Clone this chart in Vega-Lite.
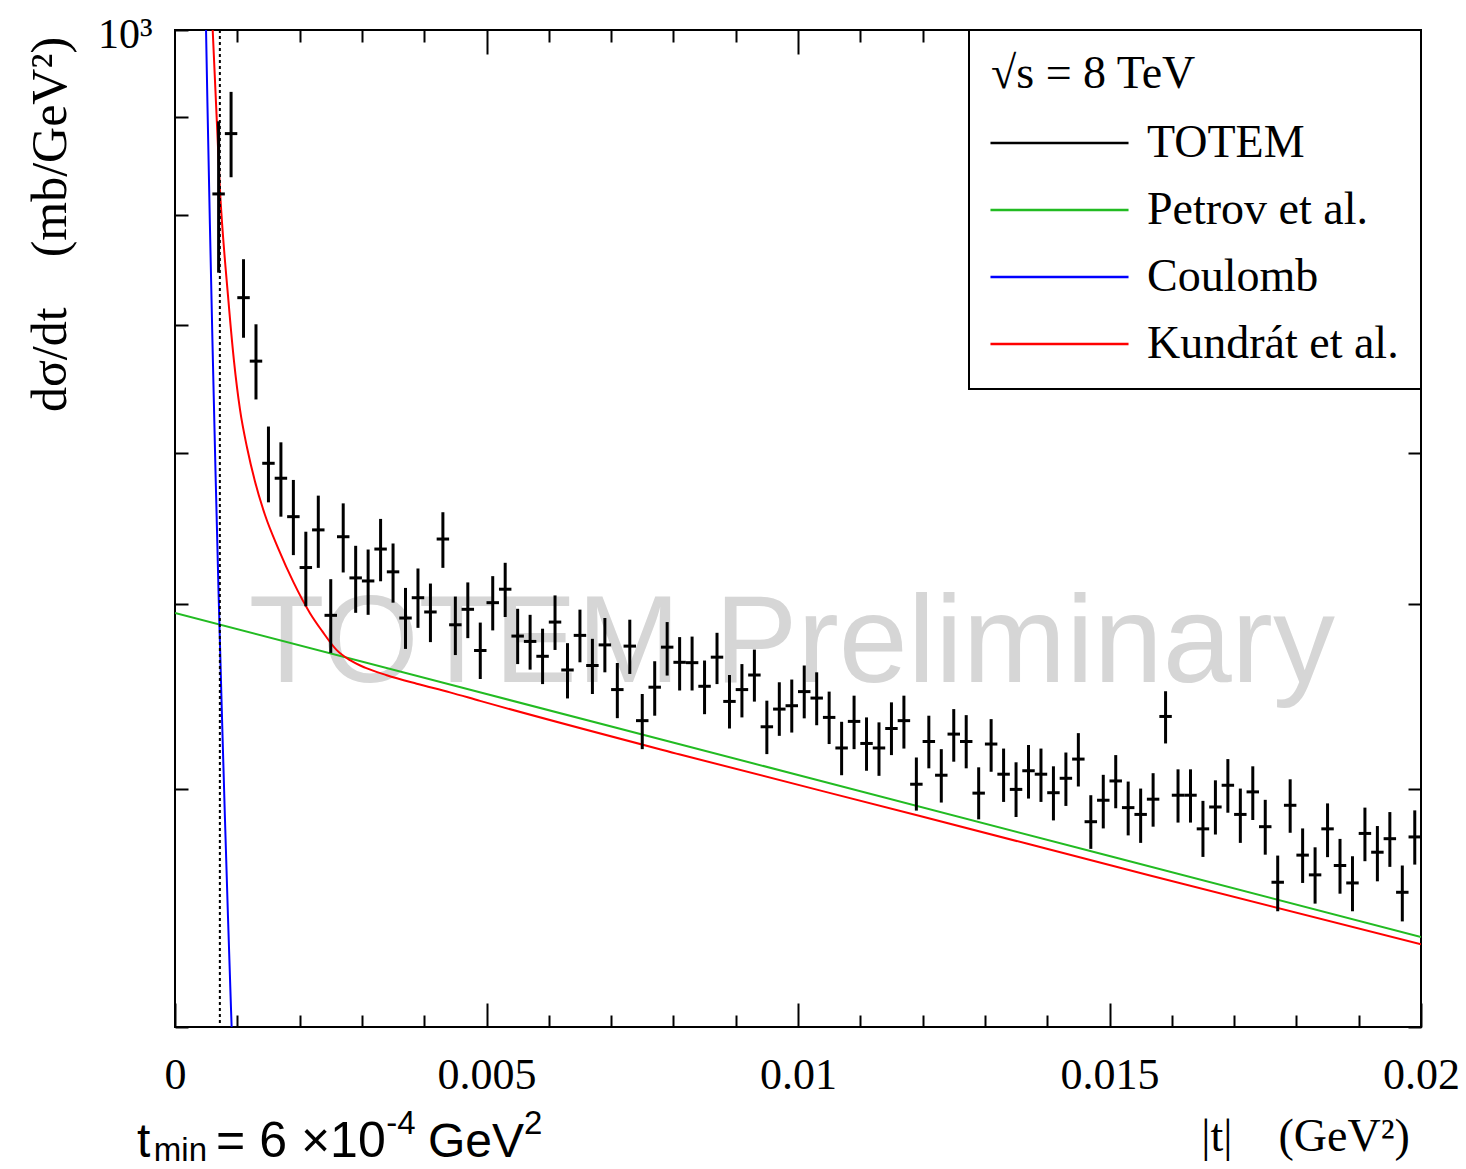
{
  "$schema": "https://vega.github.io/schema/vega-lite/v6.json",
  "width": 1246,
  "height": 997,
  "autosize": {"type": "none"},
  "padding": {"left": 175, "top": 30, "right": 45, "bottom": 142},
  "background": "white",
  "config": {
    "view": {"stroke": "black", "strokeWidth": 2},
    "axis": {"domain": false, "grid": false, "tickColor": "black", "tickWidth": 2, "labelColor": "black", "titleColor": "black", "labelFont": "Liberation Serif", "titleFont": "Liberation Serif", "titleFontWeight": "normal", "labelOverlap": false, "labelFlush": false},
    "legend": {"strokeWidth": 2}
  },
  "datasets": {
    "totem": [
      {"t":0.0007,"t0":0.0006,"t1":0.0008,"v":820.4,"lo":746.0,"hi":895.6},
      {"t":0.0009,"t0":0.0008,"t1":0.0010,"v":882.4,"lo":837.1,"hi":928.0},
      {"t":0.0011,"t0":0.0010,"t1":0.0012,"v":723.8,"lo":689.6,"hi":758.2},
      {"t":0.0013,"t0":0.0012,"t1":0.0014,"v":670.4,"lo":640.1,"hi":700.9},
      {"t":0.0015,"t0":0.0014,"t1":0.0016,"v":592.6,"lo":565.3,"hi":619.5},
      {"t":0.0017,"t0":0.0016,"t1":0.0018,"v":582.0,"lo":555.6,"hi":607.8},
      {"t":0.0019,"t0":0.0018,"t1":0.0020,"v":555.6,"lo":530.4,"hi":580.8},
      {"t":0.0021,"t0":0.0020,"t1":0.0022,"v":522.5,"lo":498.6,"hi":545.6},
      {"t":0.0023,"t0":0.0022,"t1":0.0024,"v":546.8,"lo":522.3,"hi":569.9},
      {"t":0.0025,"t0":0.0024,"t1":0.0026,"v":493.2,"lo":471.3,"hi":515.2},
      {"t":0.0027,"t0":0.0026,"t1":0.0028,"v":542.3,"lo":519.4,"hi":564.6},
      {"t":0.0029,"t0":0.0028,"t1":0.0030,"v":516.0,"lo":494.7,"hi":536.4},
      {"t":0.0031,"t0":0.0030,"t1":0.0032,"v":514.1,"lo":493.5,"hi":534.0},
      {"t":0.0033,"t0":0.0032,"t1":0.0034,"v":534.3,"lo":513.9,"hi":554.1},
      {"t":0.0035,"t0":0.0034,"t1":0.0036,"v":519.8,"lo":500.8,"hi":537.9},
      {"t":0.0037,"t0":0.0036,"t1":0.0038,"v":491.6,"lo":473.6,"hi":509.8},
      {"t":0.0039,"t0":0.0038,"t1":0.0040,"v":503.8,"lo":485.8,"hi":521.9},
      {"t":0.0041,"t0":0.0040,"t1":0.0042,"v":495.2,"lo":477.5,"hi":512.5},
      {"t":0.0043,"t0":0.0042,"t1":0.0044,"v":540.8,"lo":522.3,"hi":558.6},
      {"t":0.0045,"t0":0.0044,"t1":0.0046,"v":487.6,"lo":470.1,"hi":504.5},
      {"t":0.0047,"t0":0.0046,"t1":0.0048,"v":496.8,"lo":479.8,"hi":513.2},
      {"t":0.0049,"t0":0.0048,"t1":0.0050,"v":472.7,"lo":456.7,"hi":488.9},
      {"t":0.0051,"t0":0.0050,"t1":0.0052,"v":500.8,"lo":484.3,"hi":517.1},
      {"t":0.0053,"t0":0.0052,"t1":0.0054,"v":509.0,"lo":492.2,"hi":525.5},
      {"t":0.0055,"t0":0.0054,"t1":0.0056,"v":481.0,"lo":465.0,"hi":497.1},
      {"t":0.0057,"t0":0.0056,"t1":0.0058,"v":477.9,"lo":461.9,"hi":493.5},
      {"t":0.0059,"t0":0.0058,"t1":0.0060,"v":469.4,"lo":453.9,"hi":485.3},
      {"t":0.0061,"t0":0.0060,"t1":0.0062,"v":489.2,"lo":473.0,"hi":505.2},
      {"t":0.0063,"t0":0.0062,"t1":0.0064,"v":461.7,"lo":446.1,"hi":476.9},
      {"t":0.0065,"t0":0.0064,"t1":0.0066,"v":481.4,"lo":466.0,"hi":496.6},
      {"t":0.0067,"t0":0.0066,"t1":0.0068,"v":464.2,"lo":448.5,"hi":479.4},
      {"t":0.0069,"t0":0.0068,"t1":0.0070,"v":475.9,"lo":460.4,"hi":491.6},
      {"t":0.0071,"t0":0.0070,"t1":0.0072,"v":450.9,"lo":435.6,"hi":465.6},
      {"t":0.0073,"t0":0.0072,"t1":0.0074,"v":475.2,"lo":459.5,"hi":490.6},
      {"t":0.0075,"t0":0.0074,"t1":0.0076,"v":434.3,"lo":419.6,"hi":448.5},
      {"t":0.0077,"t0":0.0076,"t1":0.0078,"v":452.2,"lo":436.9,"hi":466.6},
      {"t":0.0079,"t0":0.0078,"t1":0.0080,"v":474.6,"lo":458.6,"hi":489.2},
      {"t":0.0081,"t0":0.0080,"t1":0.0082,"v":466.0,"lo":450.4,"hi":480.4},
      {"t":0.0083,"t0":0.0082,"t1":0.0084,"v":465.8,"lo":450.4,"hi":480.7},
      {"t":0.0085,"t0":0.0084,"t1":0.0086,"v":452.7,"lo":437.7,"hi":467.0},
      {"t":0.0087,"t0":0.0086,"t1":0.0088,"v":468.9,"lo":453.9,"hi":482.9},
      {"t":0.0089,"t0":0.0088,"t1":0.0090,"v":444.5,"lo":430.2,"hi":458.9},
      {"t":0.0091,"t0":0.0090,"t1":0.0092,"v":450.9,"lo":436.0,"hi":465.0},
      {"t":0.0093,"t0":0.0092,"t1":0.0094,"v":458.9,"lo":444.4,"hi":473.2},
      {"t":0.0095,"t0":0.0094,"t1":0.0096,"v":431.1,"lo":417.1,"hi":444.9},
      {"t":0.0097,"t0":0.0096,"t1":0.0098,"v":440.4,"lo":426.4,"hi":454.9},
      {"t":0.0099,"t0":0.0098,"t1":0.0100,"v":442.2,"lo":428.1,"hi":456.4},
      {"t":0.0101,"t0":0.0100,"t1":0.0102,"v":449.8,"lo":435.5,"hi":464.2},
      {"t":0.0103,"t0":0.0102,"t1":0.0104,"v":446.3,"lo":431.9,"hi":460.4},
      {"t":0.0105,"t0":0.0104,"t1":0.0106,"v":436.0,"lo":422.2,"hi":449.8},
      {"t":0.0107,"t0":0.0106,"t1":0.0108,"v":420.2,"lo":406.6,"hi":433.7},
      {"t":0.0109,"t0":0.0108,"t1":0.0110,"v":433.9,"lo":419.6,"hi":447.6},
      {"t":0.0111,"t0":0.0110,"t1":0.0112,"v":422.5,"lo":408.8,"hi":436.0},
      {"t":0.0113,"t0":0.0112,"t1":0.0114,"v":420.2,"lo":406.3,"hi":433.4},
      {"t":0.0115,"t0":0.0114,"t1":0.0116,"v":430.2,"lo":416.6,"hi":444.0},
      {"t":0.0117,"t0":0.0116,"t1":0.0118,"v":434.3,"lo":419.9,"hi":447.6},
      {"t":0.0119,"t0":0.0118,"t1":0.0120,"v":402.2,"lo":389.6,"hi":415.4},
      {"t":0.0121,"t0":0.0120,"t1":0.0122,"v":423.5,"lo":410.0,"hi":436.9},
      {"t":0.0123,"t0":0.0122,"t1":0.0124,"v":406.6,"lo":393.4,"hi":419.6},
      {"t":0.0125,"t0":0.0124,"t1":0.0126,"v":427.3,"lo":413.3,"hi":440.4},
      {"t":0.0127,"t0":0.0126,"t1":0.0128,"v":423.5,"lo":410.0,"hi":437.2},
      {"t":0.0129,"t0":0.0128,"t1":0.0130,"v":397.9,"lo":385.5,"hi":410.5},
      {"t":0.0131,"t0":0.0130,"t1":0.0132,"v":422.2,"lo":408.3,"hi":435.1},
      {"t":0.0133,"t0":0.0132,"t1":0.0134,"v":407.1,"lo":393.7,"hi":419.9},
      {"t":0.0135,"t0":0.0134,"t1":0.0136,"v":399.7,"lo":386.6,"hi":413.0},
      {"t":0.0137,"t0":0.0136,"t1":0.0138,"v":408.8,"lo":395.3,"hi":421.7},
      {"t":0.0139,"t0":0.0138,"t1":0.0140,"v":407.1,"lo":393.7,"hi":419.9},
      {"t":0.0141,"t0":0.0140,"t1":0.0142,"v":398.1,"lo":385.0,"hi":411.0},
      {"t":0.0143,"t0":0.0142,"t1":0.0144,"v":405.1,"lo":391.8,"hi":417.9},
      {"t":0.0145,"t0":0.0144,"t1":0.0146,"v":414.6,"lo":401.1,"hi":427.8},
      {"t":0.0147,"t0":0.0146,"t1":0.0148,"v":384.4,"lo":372.0,"hi":396.9},
      {"t":0.0149,"t0":0.0148,"t1":0.0150,"v":394.5,"lo":381.3,"hi":406.8},
      {"t":0.0151,"t0":0.0150,"t1":0.0152,"v":403.8,"lo":390.7,"hi":416.6},
      {"t":0.0153,"t0":0.0152,"t1":0.0154,"v":391.0,"lo":378.1,"hi":403.5},
      {"t":0.0155,"t0":0.0154,"t1":0.0156,"v":387.8,"lo":374.7,"hi":400.1},
      {"t":0.0157,"t0":0.0156,"t1":0.0158,"v":395.0,"lo":382.1,"hi":407.6},
      {"t":0.0159,"t0":0.0158,"t1":0.0160,"v":436.5,"lo":422.5,"hi":450.0},
      {"t":0.0161,"t0":0.0160,"t1":0.0162,"v":396.9,"lo":384.0,"hi":409.5},
      {"t":0.0163,"t0":0.0162,"t1":0.0164,"v":396.9,"lo":384.0,"hi":409.5},
      {"t":0.0165,"t0":0.0164,"t1":0.0166,"v":381.1,"lo":368.4,"hi":394.2},
      {"t":0.0167,"t0":0.0166,"t1":0.0168,"v":391.3,"lo":378.5,"hi":404.1},
      {"t":0.0169,"t0":0.0168,"t1":0.0170,"v":401.7,"lo":388.6,"hi":414.6},
      {"t":0.0171,"t0":0.0170,"t1":0.0172,"v":387.8,"lo":374.7,"hi":400.1},
      {"t":0.0173,"t0":0.0172,"t1":0.0174,"v":398.5,"lo":385.2,"hi":411.0},
      {"t":0.0175,"t0":0.0174,"t1":0.0176,"v":382.1,"lo":369.4,"hi":394.7},
      {"t":0.0177,"t0":0.0176,"t1":0.0178,"v":357.3,"lo":345.0,"hi":369.0},
      {"t":0.0179,"t0":0.0178,"t1":0.0180,"v":392.1,"lo":379.3,"hi":404.6},
      {"t":0.0181,"t0":0.0180,"t1":0.0182,"v":369.2,"lo":357.0,"hi":381.3},
      {"t":0.0183,"t0":0.0182,"t1":0.0184,"v":360.5,"lo":348.2,"hi":372.7},
      {"t":0.0185,"t0":0.0184,"t1":0.0186,"v":381.1,"lo":368.3,"hi":393.0},
      {"t":0.0187,"t0":0.0186,"t1":0.0188,"v":364.6,"lo":352.4,"hi":376.5},
      {"t":0.0189,"t0":0.0188,"t1":0.0190,"v":357.0,"lo":345.0,"hi":368.7},
      {"t":0.0191,"t0":0.0190,"t1":0.0192,"v":379.0,"lo":366.5,"hi":391.0},
      {"t":0.0193,"t0":0.0192,"t1":0.0194,"v":370.5,"lo":357.7,"hi":382.4},
      {"t":0.0195,"t0":0.0194,"t1":0.0196,"v":376.6,"lo":364.0,"hi":388.9},
      {"t":0.0197,"t0":0.0196,"t1":0.0198,"v":353.0,"lo":340.8,"hi":364.6},
      {"t":0.0199,"t0":0.0198,"t1":0.0200,"v":377.4,"lo":365.0,"hi":389.7}
    ],
    "models": [
      {"series":"Petrov et al.","t":0.0,"v":494.6},
      {"series":"Petrov et al.","t":0.005,"v":448.5},
      {"series":"Petrov et al.","t":0.01,"v":406.7},
      {"series":"Petrov et al.","t":0.015,"v":368.8},
      {"series":"Petrov et al.","t":0.02,"v":334.4},
      {"series":"Coulomb","t":0.00049,"v":1033},
      {"series":"Coulomb","t":0.00052,"v":917},
      {"series":"Coulomb","t":0.00056,"v":791},
      {"series":"Coulomb","t":0.0006,"v":689},
      {"series":"Coulomb","t":0.00065,"v":587},
      {"series":"Coulomb","t":0.0007,"v":506},
      {"series":"Coulomb","t":0.00075,"v":441},
      {"series":"Coulomb","t":0.0008,"v":387.5},
      {"series":"Coulomb","t":0.00085,"v":343},
      {"series":"Coulomb","t":0.0009,"v":306},
      {"series":"Coulomb","t":0.00092,"v":293},
      {"series":"Kundrát et al.","t":0.000605,"v":1000},
      {"series":"Kundrát et al.","t":0.000722,"v":823.7},
      {"series":"Kundrát et al.","t":0.000851,"v":725.3},
      {"series":"Kundrát et al.","t":0.000947,"v":670.4},
      {"series":"Kundrát et al.","t":0.001043,"v":632.4},
      {"series":"Kundrát et al.","t":0.001156,"v":604.0},
      {"series":"Kundrát et al.","t":0.001284,"v":579.7},
      {"series":"Kundrát et al.","t":0.001445,"v":556.7},
      {"series":"Kundrát et al.","t":0.001658,"v":534.6},
      {"series":"Kundrát et al.","t":0.001899,"v":513.5},
      {"series":"Kundrát et al.","t":0.002167,"v":494.5},
      {"series":"Kundrát et al.","t":0.00236,"v":484.0},
      {"series":"Kundrát et al.","t":0.002596,"v":472.9},
      {"series":"Kundrát et al.","t":0.002809,"v":467.2},
      {"series":"Kundrát et al.","t":0.00305,"v":463.0},
      {"series":"Kundrát et al.","t":0.003398,"v":458.8},
      {"series":"Kundrát et al.","t":0.00388,"v":454.1},
      {"series":"Kundrát et al.","t":0.004414,"v":449.4},
      {"series":"Kundrát et al.","t":0.004896,"v":444.8},
      {"series":"Kundrát et al.","t":0.008106,"v":416.9},
      {"series":"Kundrát et al.","t":0.011958,"v":387.1},
      {"series":"Kundrát et al.","t":0.01565,"v":360.2},
      {"series":"Kundrát et al.","t":0.02,"v":331.5}
    ]
  },
  "resolve": {"axis": {"x": "independent", "y": "independent"}},
  "layer": [
    {
      "data": {"values": [{}]},
      "mark": {"type": "text", "text": "TOTEM Preliminary", "font": "Liberation Sans", "fontSize": 124, "color": "#d6d6d6", "align": "center", "baseline": "alphabetic"},
      "encoding": {
        "x": {"datum": 0.0099, "type": "quantitative", "scale": {"domain": [0, 0.02], "nice": false, "zero": false}, "axis": null},
        "y": {"datum": 454.9, "type": "quantitative", "scale": {"type": "log", "domain": [300, 1000], "nice": false}, "axis": null}
      }
    },
    {
      "data": {"name": "models"},
      "transform": [{"filter": "datum.series == 'Petrov et al.'"}],
      "mark": {"type": "line", "strokeWidth": 2, "clip": true},
      "encoding": {
        "x": {"field": "t", "type": "quantitative", "scale": {"domain": [0, 0.02], "nice": false, "zero": false},
              "axis": {"orient": "bottom", "values": [0, 0.005, 0.01, 0.015, 0.02], "format": "~g", "tickSize": -24, "labelFontSize": 44, "labelPadding": 50, "title": "|t|\u2003(GeV²)", "titleFontSize": 46, "titleX": 1130, "titleY": 123, "titleAlign": "center", "titleBaseline": "alphabetic"}},
        "y": {"field": "v", "type": "quantitative", "scale": {"type": "log", "domain": [300, 1000], "nice": false},
              "axis": {"orient": "left", "values": [300, 400, 500, 600, 700, 800, 900, 1000], "tickSize": -13, "labelExpr": "datum.value == 1000 ? '10³' : ''", "labelFontSize": 42, "labelPadding": 36, "labelBaseline": "middle", "labelOffset": 4, "title": "dσ/dt\u2003(mb/GeV²)", "titleFontSize": 50, "titleAngle": -90, "titleX": -110, "titleY": 194, "titleAlign": "center", "titleBaseline": "alphabetic"}},
        "color": {"field": "series", "type": "nominal",
                  "scale": {"domain": ["TOTEM", "Petrov et al.", "Coulomb", "Kundrát et al."], "range": ["#000000", "#22bb22", "#0000ff", "#ff0000"]},
                  "legend": {"title": "\u2002√s = 8 TeV", "orient": "top-right", "offset": 0, "padding": 22, "strokeColor": "black", "fillColor": "white",
                             "symbolType": "M-7,0H7", "symbolSize": 389, "symbolStrokeWidth": 2.5, "symbolOffset": 45.5,
                             "labelOffset": 64.5, "labelFont": "Liberation Serif", "labelFontSize": 46, "labelColor": "black", "labelLimit": 500,
                             "titleFont": "Liberation Serif", "titleFontSize": 46, "titleFontWeight": "normal", "titleColor": "black", "titlePadding": 22, "titleLimit": 500,
                             "rowPadding": 21}}
      }
    },
    {
      "data": {"name": "models"},
      "transform": [{"filter": "datum.series == 'Coulomb'"}],
      "mark": {"type": "line", "strokeWidth": 2, "clip": true},
      "encoding": {
        "x": {"field": "t", "type": "quantitative", "scale": {"domain": [0, 0.02], "nice": false, "zero": false},
              "axis": {"orient": "bottom", "values": [0.001, 0.002, 0.003, 0.004, 0.006, 0.007, 0.008, 0.009, 0.011, 0.012, 0.013, 0.014, 0.016, 0.017, 0.018, 0.019], "tickSize": -12, "labels": false, "title": null}},
        "y": {"field": "v", "type": "quantitative", "scale": {"type": "log", "domain": [300, 1000], "nice": false},
              "axis": {"orient": "right", "values": [300, 400, 500, 600, 700, 800, 900], "tickSize": -13, "labels": false, "title": null}},
        "color": {"field": "series", "type": "nominal"}
      }
    },
    {
      "data": {"name": "models"},
      "transform": [{"filter": "datum.series == 'Kundrát et al.'"}],
      "mark": {"type": "line", "strokeWidth": 2, "clip": true, "interpolate": "monotone"},
      "encoding": {
        "x": {"field": "t", "type": "quantitative", "scale": {"domain": [0, 0.02], "nice": false, "zero": false},
              "axis": {"orient": "top", "values": [0.005, 0.01, 0.015], "tickSize": -24, "labels": false, "title": null}},
        "y": {"field": "v", "type": "quantitative", "scale": {"type": "log", "domain": [300, 1000], "nice": false}, "axis": null},
        "color": {"field": "series", "type": "nominal"}
      }
    },
    {
      "data": {"name": "totem"},
      "mark": {"type": "rule", "strokeWidth": 3},
      "encoding": {
        "x": {"field": "t", "type": "quantitative", "scale": {"domain": [0, 0.02], "nice": false, "zero": false},
              "axis": {"orient": "top", "values": [0.001, 0.002, 0.003, 0.004, 0.006, 0.007, 0.008, 0.009, 0.011, 0.012, 0.013, 0.014, 0.016, 0.017, 0.018, 0.019], "tickSize": -12, "labels": false, "title": null}},
        "y": {"field": "lo", "type": "quantitative", "scale": {"type": "log", "domain": [300, 1000], "nice": false}, "axis": null},
        "y2": {"field": "hi"},
        "color": {"datum": "TOTEM", "type": "nominal"}
      }
    },
    {
      "data": {"name": "totem"},
      "mark": {"type": "rule", "strokeWidth": 3, "color": "#000000"},
      "encoding": {
        "x": {"field": "t0", "type": "quantitative", "scale": {"domain": [0, 0.02], "nice": false, "zero": false}, "axis": null},
        "x2": {"field": "t1"},
        "y": {"field": "v", "type": "quantitative", "scale": {"type": "log", "domain": [300, 1000], "nice": false}, "axis": null}
      }
    },
    {
      "data": {"values": [{}]},
      "mark": {"type": "rule", "strokeWidth": 2, "strokeDash": [3, 3], "color": "#000000"},
      "encoding": {
        "x": {"datum": 0.00072, "type": "quantitative", "scale": {"domain": [0, 0.02], "nice": false, "zero": false}, "axis": null}
      }
    },
    {
      "data": {"values": [{}]},
      "mark": {"type": "text", "text": "t", "font": "Liberation Sans", "fontSize": 48, "color": "#000000", "align": "left", "baseline": "alphabetic"},
      "encoding": {
        "x": {"datum": -0.00061, "type": "quantitative", "scale": {"domain": [0, 0.02], "nice": false, "zero": false}, "axis": null},
        "y": {"datum": 256.4, "type": "quantitative", "scale": {"type": "log", "domain": [300, 1000], "nice": false}, "axis": null}
      }
    },
    {
      "data": {"values": [{}]},
      "mark": {"type": "text", "text": "min", "font": "Liberation Sans", "fontSize": 33, "color": "#000000", "align": "left", "baseline": "alphabetic"},
      "encoding": {
        "x": {"datum": -0.00034, "type": "quantitative", "scale": {"domain": [0, 0.02], "nice": false, "zero": false}, "axis": null},
        "y": {"datum": 255.1, "type": "quantitative", "scale": {"type": "log", "domain": [300, 1000], "nice": false}, "axis": null}
      }
    },
    {
      "data": {"values": [{}]},
      "mark": {"type": "text", "text": "= 6 ×10", "font": "Liberation Sans", "fontSize": 50, "color": "#000000", "align": "left", "baseline": "alphabetic"},
      "encoding": {
        "x": {"datum": 0.00066, "type": "quantitative", "scale": {"domain": [0, 0.02], "nice": false, "zero": false}, "axis": null},
        "y": {"datum": 256.4, "type": "quantitative", "scale": {"type": "log", "domain": [300, 1000], "nice": false}, "axis": null}
      }
    },
    {
      "data": {"values": [{}]},
      "mark": {"type": "text", "text": "-4", "font": "Liberation Sans", "fontSize": 33, "color": "#000000", "align": "left", "baseline": "alphabetic"},
      "encoding": {
        "x": {"datum": 0.00339, "type": "quantitative", "scale": {"domain": [0, 0.02], "nice": false, "zero": false}, "axis": null},
        "y": {"datum": 263.7, "type": "quantitative", "scale": {"type": "log", "domain": [300, 1000], "nice": false}, "axis": null}
      }
    },
    {
      "data": {"values": [{}]},
      "mark": {"type": "text", "text": "GeV", "font": "Liberation Sans", "fontSize": 48, "color": "#000000", "align": "left", "baseline": "alphabetic"},
      "encoding": {
        "x": {"datum": 0.00406, "type": "quantitative", "scale": {"domain": [0, 0.02], "nice": false, "zero": false}, "axis": null},
        "y": {"datum": 256.4, "type": "quantitative", "scale": {"type": "log", "domain": [300, 1000], "nice": false}, "axis": null}
      }
    },
    {
      "data": {"values": [{}]},
      "mark": {"type": "text", "text": "2", "font": "Liberation Sans", "fontSize": 33, "color": "#000000", "align": "left", "baseline": "alphabetic"},
      "encoding": {
        "x": {"datum": 0.0056, "type": "quantitative", "scale": {"domain": [0, 0.02], "nice": false, "zero": false}, "axis": null},
        "y": {"datum": 263.7, "type": "quantitative", "scale": {"type": "log", "domain": [300, 1000], "nice": false}, "axis": null}
      }
    }
  ]
}
